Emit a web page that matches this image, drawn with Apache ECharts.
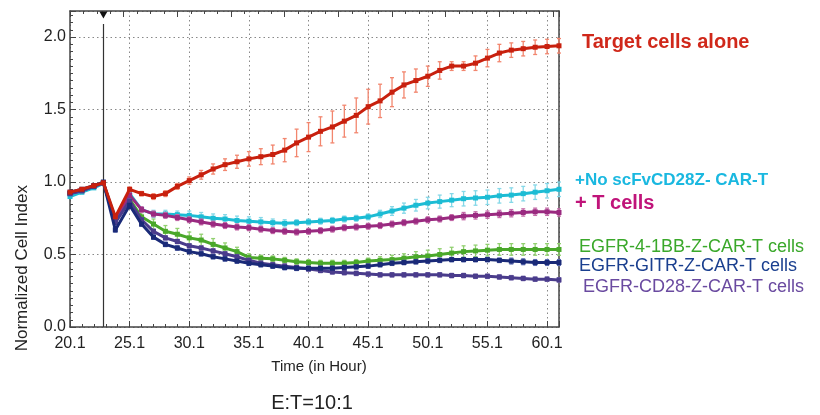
<!DOCTYPE html>
<html>
<head>
<meta charset="utf-8">
<script src="https://cdn.jsdelivr.net/npm/echarts@6/dist/echarts.min.js"></script>
<style>
html, body { margin: 0; padding: 0; background: #fff; }
#chart { width: 820px; height: 415px; }
</style>
</head>
<body>
<div id="chart"></div>
<script>
// time points (hours)
var hours = [20.1, 21.1, 22.1, 22.9, 23.9, 25.1, 26.1, 27.1, 28.1, 29.1, 30.1, 31.1, 32.1, 33.1, 34.1,
    35.1, 36.1, 37.1, 38.1, 39.1, 40.1, 41.1, 42.1, 43.1, 44.1, 45.1, 46.1, 47.1, 48.1, 49.1,
    50.1, 51.1, 52.1, 53.1, 54.1, 55.1, 56.1, 57.1, 58.1, 59.1, 60.1, 61.1];

var targetAlone = [0.93, 0.95, 0.975, 0.995, 0.76, 0.95, 0.92, 0.90, 0.92, 0.97, 1.01, 1.05, 1.09, 1.12, 1.14,
    1.16, 1.175, 1.19, 1.22, 1.27, 1.31, 1.35, 1.38, 1.42, 1.46, 1.52, 1.56, 1.62, 1.67, 1.70,
    1.73, 1.77, 1.80, 1.80, 1.82, 1.855, 1.89, 1.91, 1.92, 1.93, 1.935, 1.94];
var targetAloneErr = [0.01, 0.01, 0.01, 0.01, 0.01, 0.015, 0.015, 0.02, 0.02, 0.02, 0.025, 0.03, 0.035, 0.04, 0.045,
    0.05, 0.055, 0.065, 0.08, 0.095, 0.10, 0.10, 0.11, 0.11, 0.12, 0.12, 0.115, 0.10, 0.09, 0.08,
    0.07, 0.06, 0.03, 0.03, 0.05, 0.06, 0.06, 0.05, 0.05, 0.05, 0.05, 0.05];

var noScfv = [0.90, 0.93, 0.96, 0.99, 0.75, 0.92, 0.81, 0.78, 0.78, 0.775, 0.77, 0.76, 0.75, 0.745, 0.735,
    0.73, 0.725, 0.72, 0.715, 0.72, 0.725, 0.73, 0.735, 0.745, 0.75, 0.76, 0.78, 0.80, 0.82, 0.84,
    0.855, 0.865, 0.875, 0.885, 0.89, 0.895, 0.905, 0.91, 0.92, 0.93, 0.94, 0.95];
var noScfvErr = [0.01, 0.01, 0.01, 0.01, 0.01, 0.015, 0.02, 0.025, 0.025, 0.025, 0.03, 0.03, 0.03, 0.03, 0.03,
    0.03, 0.03, 0.025, 0.025, 0.02, 0.02, 0.02, 0.02, 0.02, 0.02, 0.02, 0.025, 0.03, 0.035, 0.04,
    0.04, 0.045, 0.045, 0.05, 0.05, 0.05, 0.05, 0.05, 0.05, 0.05, 0.05, 0.05];

var tCells = [0.92, 0.94, 0.97, 0.995, 0.74, 0.91, 0.81, 0.78, 0.77, 0.755, 0.74, 0.725, 0.71, 0.70, 0.69,
    0.685, 0.675, 0.665, 0.66, 0.655, 0.66, 0.665, 0.675, 0.685, 0.69, 0.695, 0.70, 0.71, 0.72, 0.73,
    0.74, 0.745, 0.755, 0.765, 0.77, 0.775, 0.78, 0.785, 0.79, 0.795, 0.795, 0.79];
var tCellsErr = [0.01, 0.01, 0.01, 0.01, 0.01, 0.015, 0.02, 0.02, 0.02, 0.02, 0.02, 0.02, 0.02, 0.02, 0.02,
    0.02, 0.02, 0.02, 0.02, 0.02, 0.02, 0.02, 0.02, 0.02, 0.02, 0.02, 0.02, 0.02, 0.02, 0.02,
    0.02, 0.02, 0.02, 0.025, 0.025, 0.025, 0.025, 0.025, 0.025, 0.025, 0.025, 0.025];

var bb41 = [0.92, 0.94, 0.97, 0.995, 0.73, 0.88, 0.76, 0.71, 0.66, 0.64, 0.615, 0.60, 0.57, 0.545, 0.52,
    0.48, 0.475, 0.47, 0.46, 0.45, 0.445, 0.44, 0.44, 0.44, 0.445, 0.455, 0.46, 0.465, 0.475, 0.485,
    0.49, 0.50, 0.51, 0.52, 0.525, 0.53, 0.535, 0.535, 0.535, 0.535, 0.535, 0.535];
var bb41Err = [0.01, 0.01, 0.01, 0.01, 0.01, 0.02, 0.03, 0.035, 0.04, 0.04, 0.04, 0.04, 0.04, 0.035, 0.03,
    0.025, 0.02, 0.02, 0.02, 0.02, 0.02, 0.02, 0.02, 0.02, 0.02, 0.02, 0.025, 0.03, 0.03, 0.035,
    0.04, 0.04, 0.04, 0.04, 0.04, 0.04, 0.04, 0.04, 0.04, 0.04, 0.04, 0.04];

var gitr = [0.93, 0.95, 0.975, 1.0, 0.67, 0.84, 0.71, 0.62, 0.57, 0.545, 0.52, 0.505, 0.485, 0.47, 0.455,
    0.44, 0.43, 0.42, 0.41, 0.405, 0.405, 0.405, 0.405, 0.41, 0.415, 0.42, 0.43, 0.44, 0.445, 0.45,
    0.455, 0.46, 0.465, 0.465, 0.465, 0.465, 0.46, 0.455, 0.45, 0.445, 0.445, 0.445];
var gitrErr = [0.01, 0.01, 0.01, 0.01, 0.015, 0.015, 0.015, 0.015, 0.015, 0.015, 0.015, 0.015, 0.015, 0.015, 0.015,
    0.015, 0.015, 0.015, 0.015, 0.015, 0.015, 0.015, 0.015, 0.015, 0.015, 0.015, 0.015, 0.015, 0.015, 0.015,
    0.015, 0.015, 0.015, 0.015, 0.015, 0.015, 0.015, 0.02, 0.02, 0.02, 0.02, 0.02];

var cd28 = [0.92, 0.94, 0.97, 0.995, 0.72, 0.87, 0.74, 0.66, 0.615, 0.59, 0.56, 0.545, 0.525, 0.505, 0.485,
    0.46, 0.44, 0.43, 0.42, 0.41, 0.40, 0.39, 0.38, 0.375, 0.37, 0.365, 0.36, 0.36, 0.36, 0.36,
    0.36, 0.36, 0.355, 0.355, 0.35, 0.35, 0.345, 0.34, 0.335, 0.33, 0.33, 0.325];
var cd28Err = [0.01, 0.01, 0.01, 0.01, 0.015, 0.015, 0.015, 0.015, 0.015, 0.015, 0.015, 0.015, 0.015, 0.015, 0.015,
    0.015, 0.015, 0.015, 0.015, 0.015, 0.015, 0.015, 0.015, 0.015, 0.015, 0.015, 0.015, 0.015, 0.015, 0.015,
    0.015, 0.015, 0.015, 0.015, 0.015, 0.015, 0.015, 0.015, 0.015, 0.015, 0.015, 0.015];

var additionTime = 22.9;   // when effector cells were added

var chart = echarts.init(document.getElementById('chart'));

function withBars(name, vals, errs, color, barColor, z) {
    var pts = hours.map(function (h, i) { return [h, vals[i]]; });
    var bars = hours.map(function (h, i) { return [h, vals[i] - errs[i], vals[i] + errs[i]]; });
    return [{
        type: 'custom',
        name: name + ' err',
        data: bars,
        encode: { x: 0, y: [1, 2] },
        silent: true,
        z: z,
        renderItem: function (params, api) {
            var lo = api.coord([api.value(0), api.value(1)]);
            var hi = api.coord([api.value(0), api.value(2)]);
            var st = { stroke: barColor, lineWidth: 1.3 };
            return {
                type: 'group',
                children: [
                    { type: 'line', shape: { x1: lo[0], y1: lo[1], x2: hi[0], y2: hi[1] }, style: st },
                    { type: 'line', shape: { x1: lo[0] - 2, y1: lo[1], x2: lo[0] + 2, y2: lo[1] }, style: st },
                    { type: 'line', shape: { x1: hi[0] - 2, y1: hi[1], x2: hi[0] + 2, y2: hi[1] }, style: st }
                ]
            };
        }
    }, {
        type: 'line',
        name: name,
        data: pts,
        symbol: 'rect',
        symbolSize: 5,
        showAllSymbol: true,
        z: z + 1,
        itemStyle: { color: color },
        lineStyle: { color: color, width: 3 }
    }];
}

var series = [].concat(
    withBars('Target cells alone', targetAlone, targetAloneErr, '#c8200e', '#f2866e', 10),
    withBars('+No scFvCD28Z- CAR-T', noScfv, noScfvErr, '#1cbcd4', '#86d8e8', 4),
    withBars('+ T cells', tCells, tCellsErr, '#9a2a80', '#c46aa8', 6),
    withBars('EGFR-4-1BB-Z-CAR-T cells', bb41, bb41Err, '#4aa82a', '#92d070', 2),
    withBars('EGFR-CD28-Z-CAR-T cells', cd28, cd28Err, '#4a3c8c', '#8a7cb8', 8),
    withBars('EGFR-GITR-Z-CAR-T cells', gitr, gitrErr, '#1a2a78', '#5a6ab0', 9)
);

// vertical marker line + arrow at the time of T cell addition
series.push({
    type: 'line',
    data: [],
    z: 12,
    markLine: {
        silent: true,
        symbol: 'none',
        label: { show: false },
        lineStyle: { color: '#333', type: 'solid', width: 1.2 },
        data: [[{ coord: [additionTime, 0] }, { coord: [additionTime, 2.09] }]]
    },
    markPoint: {
        silent: true,
        symbol: 'triangle',
        symbolRotate: 180,
        symbolSize: [8, 7],
        symbolOffset: [0, 4],
        itemStyle: { color: '#111' },
        label: { show: false },
        data: [{ coord: [additionTime, 2.18] }]
    }
});

var axisFont = { color: '#222', fontSize: 16, fontFamily: 'Liberation Sans, Arial, sans-serif' };
var gridDots = { show: true, lineStyle: { color: '#888', type: [1.5, 3], width: 1 } };

var option = {
    animation: false,
    grid: { left: 70, right: 261, top: 11, bottom: 88 },
    xAxis: [{
        type: 'value',
        min: 20.1,
        max: 61.1,
        interval: 5,
        axisLine: { onZero: false, lineStyle: { color: '#444', width: 1.5 } },
        axisTick: { inside: true, length: 6, lineStyle: { color: '#444' } },
        minorTick: { show: true, splitNumber: 5, length: 3, lineStyle: { color: '#444' } },
        splitLine: gridDots,
        axisLabel: Object.assign({
            margin: 9,
            showMaxLabel: false,
            formatter: function (v) { return v.toFixed(1); }
        }, axisFont)
    }, {
        type: 'value',
        position: 'top',
        min: 20.1,
        max: 61.1,
        interval: 4.5,
        axisLine: { show: true, onZero: false, lineStyle: { color: '#444', width: 1.5 } },
        axisTick: { inside: true, length: 6, lineStyle: { color: '#444' } },
        minorTick: { show: true, splitNumber: 4, length: 3, lineStyle: { color: '#444' } },
        splitLine: { show: false },
        axisLabel: { show: false }
    }],
    yAxis: [{
        type: 'value',
        min: 0,
        max: 2.18,
        interval: 0.5,
        axisLine: { show: true, onZero: false, lineStyle: { color: '#444', width: 1.5 } },
        axisTick: { inside: true, length: 6, lineStyle: { color: '#444' } },
        minorTick: { show: true, splitNumber: 10, length: 3, lineStyle: { color: '#444' } },
        splitLine: gridDots,
        axisLabel: Object.assign({
            margin: 4,
            showMaxLabel: false,
            formatter: function (v) { return v.toFixed(1); }
        }, axisFont)
    }, {
        type: 'value',
        position: 'right',
        min: 0,
        max: 2.18,
        axisLine: { show: true, onZero: false, lineStyle: { color: '#444', width: 1.5 } },
        axisTick: { show: false },
        splitLine: { show: false },
        axisLabel: { show: false }
    }],
    graphic: [
        { type: 'text', left: 14, top: 185, rotation: Math.PI / 2, originX: 0, originY: 0,
          style: { text: 'Normalized Cell Index', fill: '#222', fontSize: 17,
                   fontFamily: 'Liberation Sans, Arial, sans-serif', align: 'center', verticalAlign: 'middle' } },
        { type: 'text', x: 319, y: 367,
          style: { text: 'Time (in Hour)', fill: '#222', fontSize: 15,
                   fontFamily: 'Liberation Sans, Arial, sans-serif', align: 'center', verticalAlign: 'middle' } },
        { type: 'text', x: 312, y: 403,
          style: { text: 'E:T=10:1', fill: '#222', fontSize: 20,
                   fontFamily: 'Liberation Sans, Arial, sans-serif', align: 'center', verticalAlign: 'middle' } },
        { type: 'text', x: 582, y: 42,
          style: { text: 'Target cells alone', fill: '#d0281a', fontSize: 20, fontWeight: 'bold',
                   fontFamily: 'Liberation Sans, Arial, sans-serif', verticalAlign: 'middle' } },
        { type: 'text', x: 575, y: 180,
          style: { text: '+No scFvCD28Z- CAR-T', fill: '#1ab8e0', fontSize: 17, fontWeight: 'bold',
                   fontFamily: 'Liberation Sans, Arial, sans-serif', verticalAlign: 'middle' } },
        { type: 'text', x: 575, y: 203,
          style: { text: '+ T cells', fill: '#c0147a', fontSize: 20, fontWeight: 'bold',
                   fontFamily: 'Liberation Sans, Arial, sans-serif', verticalAlign: 'middle' } },
        { type: 'text', x: 579, y: 247,
          style: { text: 'EGFR-4-1BB-Z-CAR-T cells', fill: '#3aa82a', fontSize: 18,
                   fontFamily: 'Liberation Sans, Arial, sans-serif', verticalAlign: 'middle' } },
        { type: 'text', x: 579, y: 266,
          style: { text: 'EGFR-GITR-Z-CAR-T cells', fill: '#1a3f8f', fontSize: 18,
                   fontFamily: 'Liberation Sans, Arial, sans-serif', verticalAlign: 'middle' } },
        { type: 'text', x: 583, y: 287,
          style: { text: 'EGFR-CD28-Z-CAR-T cells', fill: '#6a4aa0', fontSize: 18,
                   fontFamily: 'Liberation Sans, Arial, sans-serif', verticalAlign: 'middle' } }
    ],
    series: series
};

chart.setOption(option);
</script>
</body>
</html>
